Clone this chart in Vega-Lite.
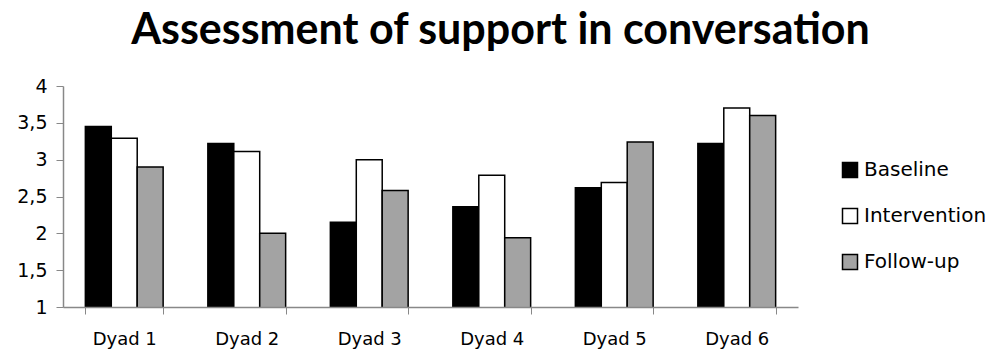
{
  "$schema": "https://vega.github.io/schema/vega-lite/v6.json",
  "autosize": "none",
  "width": 735,
  "height": 221,
  "padding": {"left": 63, "top": 86, "right": 197, "bottom": 44},
  "background": "white",
  "title": {
    "text": "Assessment of support in conversation",
    "font": "Lato",
    "fontSize": 43,
    "fontWeight": "bold",
    "color": "#000000",
    "anchor": "middle",
    "dx": 70,
    "offset": 24
  },
  "data": {
    "values": [
      {"dyad": "Dyad 1", "phase": "Baseline", "score": 3.45},
      {"dyad": "Dyad 1", "phase": "Intervention", "score": 3.29},
      {"dyad": "Dyad 1", "phase": "Follow-up", "score": 2.9},
      {"dyad": "Dyad 2", "phase": "Baseline", "score": 3.22},
      {"dyad": "Dyad 2", "phase": "Intervention", "score": 3.11},
      {"dyad": "Dyad 2", "phase": "Follow-up", "score": 2.0},
      {"dyad": "Dyad 3", "phase": "Baseline", "score": 2.15},
      {"dyad": "Dyad 3", "phase": "Intervention", "score": 3.0},
      {"dyad": "Dyad 3", "phase": "Follow-up", "score": 2.58},
      {"dyad": "Dyad 4", "phase": "Baseline", "score": 2.36},
      {"dyad": "Dyad 4", "phase": "Intervention", "score": 2.79},
      {"dyad": "Dyad 4", "phase": "Follow-up", "score": 1.94},
      {"dyad": "Dyad 5", "phase": "Baseline", "score": 2.62},
      {"dyad": "Dyad 5", "phase": "Intervention", "score": 2.69},
      {"dyad": "Dyad 5", "phase": "Follow-up", "score": 3.24},
      {"dyad": "Dyad 6", "phase": "Baseline", "score": 3.22},
      {"dyad": "Dyad 6", "phase": "Intervention", "score": 3.7},
      {"dyad": "Dyad 6", "phase": "Follow-up", "score": 3.6}
    ]
  },
  "mark": {"type": "bar", "stroke": "#000000", "strokeWidth": 1.5, "clip": true},
  "encoding": {
    "x": {
      "field": "dyad",
      "type": "nominal",
      "title": null,
      "scale": {"paddingInner": 0.365, "paddingOuter": 0.1825},
      "axis": {
        "labelAngle": 0,
        "labelFont": "DejaVu Sans",
        "labelFontSize": 18,
        "labelColor": "#000000",
        "labelPadding": 16,
        "tickBand": "extent",
        "tickSize": 7,
        "tickColor": "#888888",
        "domainColor": "#888888",
        "domainWidth": 1.5,
        "zindex": 1
      }
    },
    "xOffset": {"field": "phase", "sort": ["Baseline", "Intervention", "Follow-up"]},
    "y": {
      "field": "score",
      "type": "quantitative",
      "title": null,
      "scale": {"domain": [1, 4], "zero": false, "nice": false},
      "axis": {
        "values": [1, 1.5, 2, 2.5, 3, 3.5, 4],
        "labelExpr": "replace(toString(datum.value), '.', ',')",
        "labelFont": "DejaVu Sans",
        "labelFontSize": 19,
        "labelColor": "#000000",
        "labelPadding": 9,
        "grid": false,
        "tickSize": 7,
        "tickColor": "#888888",
        "domainColor": "#888888",
        "domainWidth": 1.5
      }
    },
    "fill": {
      "field": "phase",
      "type": "nominal",
      "sort": ["Baseline", "Intervention", "Follow-up"],
      "scale": {"domain": ["Baseline", "Intervention", "Follow-up"], "range": ["#000000", "#ffffff", "#a3a3a3"]},
      "legend": {
        "title": null,
        "orient": "none",
        "legendX": 777,
        "legendY": 74,
        "symbolType": "square",
        "symbolSize": 225,
        "symbolStrokeColor": "#000000",
        "symbolStrokeWidth": 1.5,
        "labelFont": "DejaVu Sans",
        "labelFontSize": 20,
        "labelColor": "#000000",
        "labelOffset": 4,
        "rowPadding": 24
      }
    }
  },
  "config": {"view": {"stroke": null}}
}
